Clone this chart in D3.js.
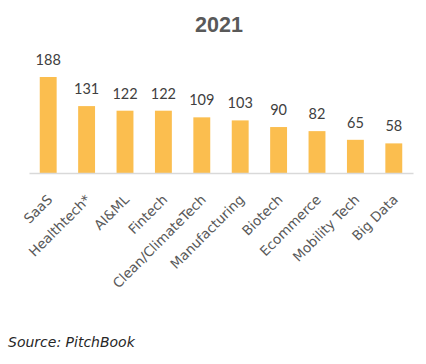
<!DOCTYPE html>
<html>
<head>
<meta charset="utf-8">
<script src="https://cdn.jsdelivr.net/npm/d3@7"></script>
<style>
  html, body { margin: 0; padding: 0; background: #fff; }
  svg { display: block; }
</style>
</head>
<body>
<svg id="chart" width="426" height="364"></svg>
<script>
const title = "2021";
const categories = ["SaaS", "Healthtech*", "AI&ML", "Fintech", "Clean/ClimateTech", "Manufacturing", "Biotech", "Ecommerce", "Mobility Tech", "Big Data"];
const values = [188, 131, 122, 122, 109, 103, 90, 82, 65, 58];
const source = "Source: PitchBook";

const svg = d3.select("#chart");
const font = "'DejaVu Sans', sans-serif";
const numFont = "Lato, sans-serif";

const x = d3.scaleBand().domain(categories).range([29, 413]).paddingInner(0.56).paddingOuter(0.28);
const y = d3.scaleLinear().domain([0, 188]).range([173, 77]);

svg.append("text")
  .attr("x", 219).attr("y", 32.3)
  .attr("text-anchor", "middle")
  .attr("font-family", "'Liberation Sans', Arial, sans-serif").attr("font-weight", 700).attr("font-size", 21.5)
  .attr("fill", "#595959")
  .text(title);

svg.selectAll("rect.bar").data(values).join("rect")
  .attr("class", "bar")
  .attr("x", (d, i) => x(categories[i]))
  .attr("width", x.bandwidth())
  .attr("y", d => y(d))
  .attr("height", d => y(0) - y(d))
  .attr("fill", "#FBBE4F");

svg.selectAll("text.val").data(values).join("text")
  .attr("class", "val")
  .attr("x", (d, i) => x(categories[i]) + x.bandwidth() / 2)
  .attr("y", d => y(d) - 12)
  .attr("text-anchor", "middle")
  .attr("font-family", numFont).attr("font-size", 14.5)
  .attr("fill", "#404040")
  .text(d => d);

const axis = d3.axisBottom(x).tickSize(0).tickPadding(0);
const gx = svg.append("g").attr("transform", `translate(0,${y(0)})`).call(axis);
gx.select(".domain").attr("stroke", "#d9d9d9").attr("stroke-width", 1.5);
gx.selectAll(".tick text")
  .attr("font-family", font).attr("font-size", 13.5)
  .attr("fill", "#595959")
  .attr("text-anchor", "end")
  .attr("y", 0).attr("dy", 0)
  .attr("transform", "translate(5,27.5) rotate(-45)");

svg.append("text")
  .attr("x", 8).attr("y", 346.7)
  .attr("font-family", font).attr("font-style", "italic").attr("font-size", 14)
  .attr("fill", "#262626")
  .text(source);
</script>
</body>
</html>
